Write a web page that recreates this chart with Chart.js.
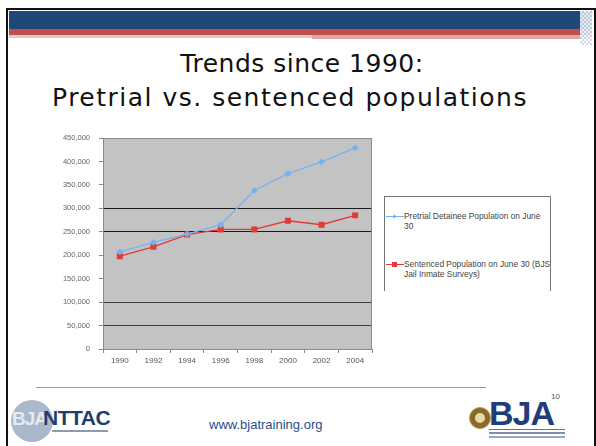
<!DOCTYPE html>
<html>
<head>
<meta charset="utf-8">
<script src="https://cdn.jsdelivr.net/npm/chart.js@4.4.1/dist/chart.umd.min.js"></script>
<style>
  html, body { margin: 0; padding: 0; background: #fff; }
  body { width: 596px; height: 446px; position: relative; overflow: hidden; font-family: "Liberation Sans", Arial, sans-serif; }
  .frame { position: absolute; left: 6px; top: 8px; width: 586px; height: 460px; border: 2px solid #111; border-bottom: none; }
  .band-blue { position: absolute; left: 9px; top: 11px; width: 583px; height: 18px; background: #1f4778; }
  .band-red { position: absolute; left: 9px; top: 29px; width: 583px; height: 6px; background: #c0504d; }
  .band-red2 { position: absolute; left: 312px; top: 35px; width: 280px; height: 4px; background: #e0a4a3; }
  .band-pink { position: absolute; left: 9px; top: 35px; width: 303px; height: 3px; background: #ebc4c4; }
  .checker { position: absolute; left: 580px; top: 11px; width: 12px; height: 34px;
    background: repeating-conic-gradient(#c6d3e6 0 25%, #ffffff 0 50%) 0 0 / 4px 4px; opacity: .9; }
  .title { position: absolute; width: 596px; text-align: center; font-family: "DejaVu Sans", sans-serif;
    font-size: 25px; line-height: 25px; color: #111; white-space: nowrap; }
  #wrap { position: absolute; left: 40px; top: 130px; width: 340px; height: 242px; }
  #wrap canvas { display: block; }
  .legend { position: absolute; left: 384px; top: 196px; width: 165px; height: 94px; border: 1px solid #777; border-bottom: none; }
  .leg-item { position: absolute; left: 0; width: 165px; font-size: 8.4px; line-height: 10px; color: #444; }
  .leg-item .swatch { position: absolute; left: 1px; top: 5px; width: 18px; height: 1px; }
  .leg-item .mark { position: absolute; }
  .leg-item .txt { position: absolute; left: 19px; top: 0; }
  .rule { position: absolute; left: 36px; top: 387px; width: 450px; height: 1px; background: #999; }
  .url { position: absolute; left: 209px; top: 417px; font-size: 13px; color: #1f4e8c; }
  .nttac-circle { position: absolute; left: 11px; top: 400px; width: 42px; height: 42px; border-radius: 50%; background: #a9b8ca; }
  .nttac-bja { position: absolute; left: 12px; top: 408px; font: bold 19px "Liberation Sans", sans-serif; color: #e4ebf2; letter-spacing: -1px; }
  .nttac-txt { position: absolute; left: 43px; top: 406px; font: bold 21px "Liberation Sans", sans-serif; color: #1f3d6e; letter-spacing: -0.5px; }
  .nttac-sub { position: absolute; left: 52px; top: 430px; width: 56px; height: 2px; background: #8a9bb2; }
  .seal { position: absolute; left: 469px; top: 407px; width: 20px; height: 20px; border-radius: 50%; background: #8a6a2a; border: 1px solid #c09a40; }
  .seal:after { content: ""; position: absolute; left: 5px; top: 5px; width: 10px; height: 10px; border-radius: 50%; background: #e8d8a8; }
  .bja { position: absolute; left: 489px; top: 394px; font: bold 34px "Liberation Sans", sans-serif; color: #1f3d7a; letter-spacing: -1px; }
  .bja-sub { position: absolute; left: 489px; top: 432px; width: 76px; height: 2px; background: #7d8fb0; box-shadow: 0 4px 0 #9aa8c2; }
  .bja-bar { position: absolute; left: 489px; top: 429px; width: 76px; height: 1px; background: #c0504d; }
  .slide-no { position: absolute; left: 551px; top: 392px; font-size: 8px; color: #555; }
</style>
</head>
<body>
<div class="frame"></div>
<div class="band-blue"></div>
<div class="band-red"></div>
<div class="band-pink"></div>
<div class="band-red2"></div>
<div class="checker"></div>

<div class="title" style="left:4px;top:51px;letter-spacing:0.5px">Trends since 1990:</div>
<div class="title" style="left:-8px;top:85px;letter-spacing:1.5px">Pretrial vs. sentenced populations</div>

<div id="wrap"><canvas id="chart" width="340" height="242"></canvas></div>
<div class="legend" id="legend"></div>

<div class="rule"></div>
<div class="nttac-circle"></div>
<div class="nttac-bja">BJA</div>
<div class="nttac-txt">NTTAC</div>
<div class="nttac-sub"></div>
<div class="url">www.bjatraining.org</div>
<div class="seal"></div>
<div class="bja">BJA</div>
<div class="bja-bar"></div>
<div class="bja-sub"></div>
<div class="slide-no">10</div>

<script>
// Jail populations on June 30, every other year
const YEARS = ['1990', '1992', '1994', '1996', '1998', '2000', '2002', '2004'];
const PRETRIAL = [207000, 227500, 245000, 265000, 338000, 374000, 399000, 429000];
const SENTENCED = [198000, 218000, 244000, 255000, 255000, 273500, 265000, 285000];
const SERIES_NAMES = [
  'Pretrial Detainee Population on June 30',
  'Sentenced Population on June 30 (BJS Jail Inmate Surveys)'
];
const Y_MAX = 450000;
const Y_STEP = 50000;

const BLUE = '#74b2f2';
const RED = '#e23a36';

// gray plot area + outline, like the spreadsheet default
const plotBg = {
  id: 'plotBg',
  beforeDraw(chart) {
    const { ctx, chartArea: a } = chart;
    ctx.save();
    ctx.fillStyle = '#c3c3c3';
    ctx.fillRect(a.left, a.top, a.right - a.left, a.bottom - a.top);
    ctx.restore();
  },
  afterDatasetsDraw(chart) {
    const { ctx, chartArea: a } = chart;
    ctx.save();
    ctx.strokeStyle = '#8a8a8a';
    ctx.lineWidth = 1;
    ctx.strokeRect(a.left + 0.5, a.top + 0.5, a.right - a.left - 1, a.bottom - a.top);
    ctx.restore();
  }
};

function gridColor(c) {
  const v = c.tick && c.tick.value;
  if (v === 250000 || v === 300000) return '#1a1a1a';
  if (v === 50000 || v === 100000) return '#3c3c3c';
  return 'rgba(0,0,0,0)';
}

new Chart(document.getElementById('chart'), {
  type: 'line',
  data: {
    labels: YEARS,
    datasets: [
      {
        label: SERIES_NAMES[0],
        data: PRETRIAL,
        borderColor: BLUE,
        backgroundColor: BLUE,
        borderWidth: 1.3,
        pointStyle: 'rectRot',
        pointRadius: 2.5,
        tension: 0
      },
      {
        label: SERIES_NAMES[1],
        data: SENTENCED,
        borderColor: RED,
        backgroundColor: RED,
        borderWidth: 1.3,
        pointStyle: 'rect',
        pointRadius: 3.3,
        tension: 0
      }
    ]
  },
  options: {
    responsive: false,
    animation: false,
    layout: { padding: { top: 0, right: 8, left: 0, bottom: 0 } },
    plugins: { legend: { display: false }, tooltip: { enabled: false } },
    scales: {
      x: {
        offset: true,
        grid: { offset: true, drawOnChartArea: false, tickLength: 4, color: '#888' },
        border: { color: '#888' },
        ticks: { color: '#555', font: { family: 'Liberation Sans', size: 8 }, padding: 3, maxRotation: 0 },
        afterFit(scale) { scale.height = 23; }
      },
      y: {
        min: 0,
        max: Y_MAX,
        ticks: {
          stepSize: Y_STEP,
          color: '#666',
          font: { family: 'Liberation Sans', size: 7.5 },
          padding: 9,
          callback: v => v.toLocaleString('en-US')
        },
        grid: { color: gridColor, tickColor: '#888', tickLength: 4, lineWidth: 1 },
        border: { color: '#888' },
        afterFit(scale) { scale.width = 63; scale.paddingTop = 8; scale.paddingBottom = 0; }
      }
    }
  },
  plugins: [plotBg]
});

// legend on the right, boxed, with wrapped labels
const legendEl = document.getElementById('legend');
const legendRows = [
  { name: SERIES_NAMES[0], color: BLUE, top: 14, mark: 'diamond', wrap: 138 },
  { name: SERIES_NAMES[1], color: RED, top: 62, mark: 'square', wrap: 150 }
];
legendRows.forEach(r => {
  const item = document.createElement('div');
  item.className = 'leg-item';
  item.style.top = r.top + 'px';
  const markCss = r.mark === 'square'
    ? `left:7px;top:3px;width:5px;height:5px;background:${r.color}`
    : `left:8px;top:3.5px;width:3px;height:3px;background:${r.color};transform:rotate(45deg)`;
  item.innerHTML = `
    <span class="swatch" style="background:${r.color}"></span>
    <span class="mark" style="${markCss}"></span>
    <span class="txt" style="width:${r.wrap}px">${r.name}</span>
  `;
  legendEl.appendChild(item);
});
</script>
</body>
</html>
